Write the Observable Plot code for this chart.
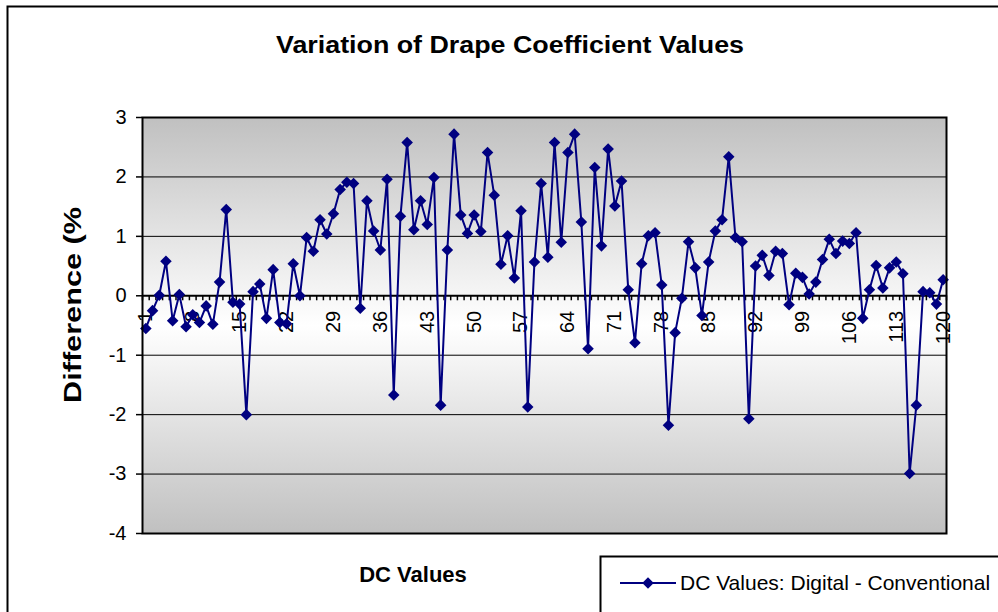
<!DOCTYPE html>
<html>
<head>
<meta charset="utf-8">
<script src="https://cdn.jsdelivr.net/npm/d3@7"></script>
<script src="https://cdn.jsdelivr.net/npm/@observablehq/plot@0.6"></script>
<style>
  html, body { margin: 0; padding: 0; background: #fff; }
  #chart { width: 998px; height: 612px; overflow: hidden; }
</style>
</head>
<body>
<div id="chart"></div>
<script>
// ---- data ----
const categories = d3.range(1, 121);
const values = [
  -0.55, -0.25, 0.01, 0.58, -0.42, 0.02, -0.52, -0.32, -0.45, -0.17,
  -0.48, 0.23, 1.45, -0.11, -0.14, -2.0, 0.07, 0.20, -0.38, 0.44,
  -0.45, -0.47, 0.54, 0.0, 0.98, 0.75, 1.28, 1.04, 1.38, 1.79,
  1.91, 1.89, -0.21, 1.60, 1.09, 0.77, 1.96, -1.67, 1.34, 2.58,
  1.11, 1.60, 1.20, 1.99, -1.84, 0.77, 2.72, 1.36, 1.05, 1.36,
  1.08, 2.41, 1.69, 0.53, 1.01, 0.30, 1.43, -1.87, 0.57, 1.89,
  0.65, 2.58, 0.90, 2.41, 2.72, 1.24, -0.89, 2.16, 0.84, 2.47,
  1.51, 1.93, 0.10, -0.79, 0.54, 1.01, 1.06, 0.18, -2.18, -0.62,
  -0.04, 0.91, 0.47, -0.33, 0.57, 1.09, 1.28, 2.34, 0.98, 0.91,
  -2.07, 0.50, 0.68, 0.34, 0.75, 0.71, -0.15, 0.38, 0.31, 0.03,
  0.23, 0.61, 0.95, 0.71, 0.92, 0.88, 1.06, -0.38, 0.10, 0.51,
  0.13, 0.47, 0.57, 0.37, -2.99, -1.84, 0.07, 0.05, -0.14, 0.27
];
const xTickLabels = [1, 8, 15, 22, 29, 36, 43, 50, 57, 64, 71, 78, 85, 92, 99, 106, 113, 120];
const yTicks = [-4, -3, -2, -1, 0, 1, 2, 3];
const gridValues = [-3, -2, -1, 1, 2];
const titleText = "Variation of Drape Coefficient Values";
const yTitle = "Difference (%";
const xTitle = "DC Values";
const seriesName = "DC Values: Digital - Conventional";

const data = categories.map((c, i) => ({cat: c, value: values[i]}));
const boundaries = d3.range(0, 121).map(d => d + 0.5);

const navy = "#000080";
const font = "'Liberation Sans', Arial, sans-serif";
const markerR = 5.2;

const plot = Plot.plot({
  width: 998,
  height: 612,
  marginLeft: 142,
  marginRight: 52,
  marginTop: 117,
  marginBottom: 79,
  style: {fontFamily: font, fontSize: "20px", background: "#fff", color: "#000", overflow: "visible"},
  x: {type: "linear", domain: [0.5, 120.5], axis: null},
  y: {type: "linear", domain: [-4, 3], axis: null},
  marks: [
    Plot.frame({fill: "url(#plotBg)", stroke: "none"}),
    Plot.ruleY(gridValues, {stroke: "#000", strokeWidth: 1}),
    Plot.axisY({ticks: yTicks, tickSize: 6, tickPadding: 10, tickFormat: d => String(d), fontSize: 20, label: null, stroke: "#000", strokeWidth: 1.5}),
    Plot.text(xTickLabels, {x: d => d, y: () => 0, text: d => String(d), rotate: -90, textAnchor: "end", dy: 15, fontSize: 20, fill: "#000"}),
    Plot.ruleY([0], {stroke: "#000", strokeWidth: 2}),
    Plot.ruleX(boundaries, {x: d => d, y1: () => 0, y2: () => 0, insetBottom: -5, stroke: "#000", strokeWidth: 1.5}),
    Plot.line(data, {x: "cat", y: "value", stroke: navy, strokeWidth: 2}),
    Plot.dot(data, {x: "cat", y: "value", symbol: "diamond2", r: markerR, fill: navy, stroke: "none"}),
    Plot.frame({stroke: "#000", strokeWidth: 2})
  ]
});

document.getElementById("chart").appendChild(plot);

const svg = d3.select(plot);
const defs = svg.insert("defs", ":first-child");
const grad = defs.append("linearGradient").attr("id", "plotBg")
  .attr("x1", 0).attr("y1", 0).attr("x2", 0).attr("y2", 1);
grad.append("stop").attr("offset", "0%").attr("stop-color", "#c0c0c0");
grad.append("stop").attr("offset", "50%").attr("stop-color", "#ffffff");
grad.append("stop").attr("offset", "100%").attr("stop-color", "#c0c0c0");

// outer chart border
svg.append("rect").attr("x", 7.5).attr("y", 6.5).attr("width", 1100).attr("height", 700)
  .attr("fill", "none").attr("stroke", "#000").attr("stroke-width", 2);

// title
svg.append("text").attr("x", 510).attr("y", 53).attr("text-anchor", "middle")
  .attr("font-family", font).attr("font-size", 23).attr("font-weight", "bold")
  .attr("textLength", 468).attr("lengthAdjust", "spacingAndGlyphs")
  .text(titleText);

// y title
svg.append("text").attr("transform", "translate(81,305) rotate(-90)").attr("text-anchor", "middle")
  .attr("font-family", font).attr("font-size", 23).attr("font-weight", "bold")
  .attr("textLength", 196).attr("lengthAdjust", "spacingAndGlyphs")
  .text(yTitle);

// x title
svg.append("text").attr("x", 413).attr("y", 582).attr("text-anchor", "middle")
  .attr("font-family", font).attr("font-size", 22).attr("font-weight", "bold")
  .text(xTitle);

// legend
const lg = svg.append("g");
lg.append("rect").attr("x", 600.5).attr("y", 556.5).attr("width", 500).attr("height", 100)
  .attr("fill", "#fff").attr("stroke", "#000").attr("stroke-width", 2);
lg.append("line").attr("x1", 620).attr("x2", 676).attr("y1", 583).attr("y2", 583)
  .attr("stroke", navy).attr("stroke-width", 2);
lg.append("path").attr("d", d3.symbol(d3.symbolDiamond2, markerR * markerR * Math.PI)())
  .attr("transform", "translate(648,583)").attr("fill", navy);
lg.append("text").attr("x", 680).attr("y", 583).attr("dy", "0.35em")
  .attr("text-anchor", "start")
  .attr("font-family", font).attr("font-size", 21)
  .text(seriesName);
</script>
</body>
</html>
